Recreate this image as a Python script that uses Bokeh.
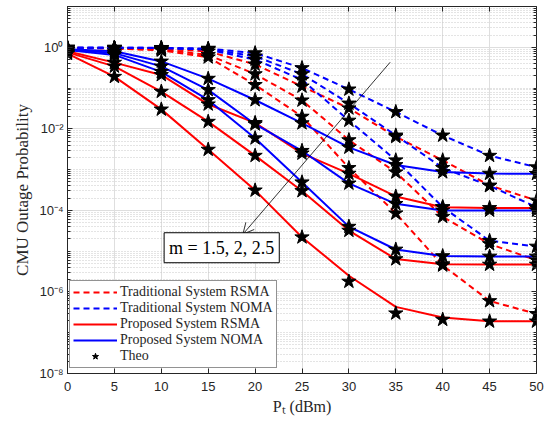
import numpy as np
from bokeh.plotting import figure
from bokeh.models import (FixedTicker, LogAxis, LinearAxis, Legend, LegendItem, Label,
                          Arrow, OpenHead, CustomJSTickFormatter)
from bokeh.embed import file_html
from bokeh.resources import INLINE

# ---------------- data ----------------
pt = [0, 5, 10, 15, 20, 25, 30, 35, 40, 45, 50]

# Traditional system, RSMA (m = 1.5, 2, 2.5)
trad_rsma_15 = [0.97, 0.96, 0.92, 0.79, 0.38, 0.11, 0.032, 6.4e-3, 1.7e-3, 4.1e-4, 1.75e-4]
trad_rsma_2 = [0.97, 0.95, 0.88, 0.65, 0.22, 0.05, 5.3e-3, 8.6e-4, 7e-5, 1.5e-5, 6e-6]
trad_rsma_25 = [0.96, 0.93, 0.84, 0.57, 0.12, 0.02, 1.1e-3, 8.5e-5, 4.5e-6, 6e-7, 2.9e-7]
# Traditional system, NOMA
trad_noma_15 = [0.98, 0.98, 0.97, 0.93, 0.72, 0.31, 0.093, 0.026, 6.9e-3, 2.2e-3, 1.15e-3]
trad_noma_2 = [0.98, 0.98, 0.96, 0.90, 0.60, 0.22, 0.042, 6.9e-3, 1.1e-3, 4e-4, 1.2e-4]
trad_noma_25 = [0.98, 0.97, 0.95, 0.88, 0.50, 0.16, 0.016, 1.7e-3, 1.2e-4, 1.8e-5, 1.3e-5]
# Proposed system, RSMA
prop_rsma_15 = [0.80, 0.42, 0.21, 0.040, 0.014, 2.5e-3, 8e-4, 2.2e-4, 1.2e-4, 1.15e-4, 1.15e-4]
prop_rsma_2 = [0.75, 0.34, 0.082, 0.015, 2.2e-3, 3e-4, 3.2e-5, 6.4e-6, 4.8e-6, 4.7e-6, 4.7e-6]
prop_rsma_25 = [0.70, 0.19, 0.030, 3.1e-3, 3.1e-4, 2.2e-5, 2.5e-6, 4.3e-7, 2.35e-7, 1.9e-7, 1.9e-7]
# Proposed system, NOMA
prop_noma_15 = [0.90, 0.80, 0.45, 0.17, 0.051, 0.0138, 3.5e-3, 1.3e-3, 8.7e-4, 8e-4, 7.9e-4]
prop_noma_2 = [0.88, 0.72, 0.34, 0.09, 0.013, 2.9e-3, 4.6e-4, 1.45e-4, 1.0e-4, 1.0e-4, 1.0e-4]
prop_noma_25 = [0.86, 0.65, 0.25, 0.051, 5.9e-3, 4.9e-4, 4.0e-5, 1.1e-5, 7.6e-6, 7.4e-6, 7.4e-6]

# Theoretical points (stars)
theo_prop_rsma_25 = [0.70, 0.19, 0.030, 3.1e-3, 3.1e-4, 2.2e-5, 1.8e-6, 3.0e-7, 2.1e-7, 1.9e-7, 1.9e-7]

y_major = [1e-8, 1e-6, 1e-4, 1e-2, 1]
x_major = [0, 5, 10, 15, 20, 25, 30, 35, 40, 45, 50]
annot_text = "m = 1.5, 2, 2.5"

RED = "#ff0000"
BLUE = "#0000ff"
AX = "#262626"

# ---------------- figure ----------------
p = figure(width=547, height=421, y_axis_type="log", x_range=(0, 50), y_range=(1e-8, 10),
           output_backend="svg", toolbar_location=None,
           min_border_left=67, min_border_right=11, min_border_top=6, min_border_bottom=48)
p.background_fill_color = "white"
p.border_fill_color = "white"
p.outline_line_color = AX
p.outline_line_width = 1

minor = []
for e in range(-8, 1):
    for k in range(1, 10):
        v = k * 10.0 ** e
        if v <= 10 and not (k == 1 and e % 2 == 0):
            minor.append(v)
minor.append(10.0)
yticker = FixedTicker(ticks=y_major, minor_ticks=minor)
xticker = FixedTicker(ticks=x_major, minor_ticks=[])

fmt = CustomJSTickFormatter(code="""
const sup = {'-':'\u207b','0':'\u2070','1':'\u00b9','2':'\u00b2','3':'\u00b3','4':'\u2074','5':'\u2075','6':'\u2076','7':'\u2077','8':'\u2078','9':'\u2079'};
const e = Math.round(Math.log10(tick));
return '10' + String(e).split('').map(c => sup[c]).join('');
""")

ya = p.yaxis[0]
ya.ticker = yticker
ya.formatter = fmt
xa = p.xaxis[0]
xa.ticker = xticker
for ax in (xa, ya):
    ax.axis_line_color = AX
    ax.major_tick_line_color = AX
    ax.minor_tick_line_color = AX
    ax.major_tick_in = 5
    ax.major_tick_out = 0
    ax.minor_tick_in = 3
    ax.minor_tick_out = 0
    ax.major_label_text_font = "Liberation Sans"
    ax.major_label_text_font_size = "13px"
    ax.major_label_text_color = AX
    ax.axis_label_text_font = "Liberation Serif"
    ax.axis_label_text_font_style = "normal"
    ax.axis_label_text_color = AX
ya.major_label_standoff = 4
xa.major_label_standoff = 8
ya.axis_label = "CMU Outage Probability"
ya.axis_label_text_font_size = "17px"
ya.axis_label_standoff = 4
xa.axis_label = "P\u209c (dBm)"
xa.axis_label_text_font_size = "16px"
xa.axis_label_standoff = 4

blank = CustomJSTickFormatter(code="return '';")
ra = LogAxis(ticker=yticker, formatter=blank, major_tick_in=5, major_tick_out=0,
             minor_tick_in=3, minor_tick_out=0, axis_line_color=None,
             major_tick_line_color=AX, minor_tick_line_color=AX,
             major_label_text_font_size="1px", major_label_standoff=0)
p.add_layout(ra, "right")
ta = LinearAxis(ticker=xticker, formatter=blank, major_tick_in=5, major_tick_out=0,
                axis_line_color=None, major_tick_line_color=AX,
                major_label_text_font_size="1px", major_label_standoff=0)
p.add_layout(ta, "above")

p.xgrid.ticker = xticker
p.ygrid.ticker = yticker
for g in (p.xgrid[0], p.ygrid[0]):
    g.grid_line_color = "#dedede"
    g.grid_line_width = 1
p.ygrid.minor_grid_line_color = "#c8c8c8"
p.ygrid.minor_grid_line_dash = "1 2"
p.ygrid.minor_grid_line_width = 1

# ---------------- glyphs ----------------
trad_rsma = [trad_rsma_15, trad_rsma_2, trad_rsma_25]
trad_noma = [trad_noma_15, trad_noma_2, trad_noma_25]
prop_rsma = [prop_rsma_15, prop_rsma_2, prop_rsma_25]
prop_noma = [prop_noma_15, prop_noma_2, prop_noma_25]

r_tr = [p.line(pt, s, line_color=RED, line_width=2, line_dash="6 4") for s in trad_rsma]
r_tn = [p.line(pt, s, line_color=BLUE, line_width=2, line_dash="6 4") for s in trad_noma]
r_pr = [p.line(pt, s, line_color=RED, line_width=2) for s in prop_rsma]
r_pn = [p.line(pt, s, line_color=BLUE, line_width=2) for s in prop_noma]

theo_sets = trad_rsma + trad_noma + [prop_rsma_15, prop_rsma_2, theo_prop_rsma_25] + prop_noma
r_star = None
for s in theo_sets:
    r_star = p.scatter(pt, s, marker="star", size=15, fill_color="black",
                       line_color="black", line_width=1)

# ---------------- annotations ----------------
arrow = Arrow(x_start=34.4, y_start=0.43, x_end=18.7, y_end=2.6e-5,
              line_color="black", line_width=0.8,
              end=OpenHead(size=11, line_color="black", line_width=0.8))
p.add_layout(arrow)

lab = Label(x=10.3, y=5.2e-6, text=annot_text, text_font="Liberation Serif",
            text_font_size="18px", text_color="black", text_align="left", text_baseline="bottom",
            border_line_color="black", border_line_width=1, background_fill_color="white",
            padding=5)
p.add_layout(lab)

legend = Legend(items=[
    LegendItem(label="Traditional System RSMA", renderers=[r_tr[0]]),
    LegendItem(label="Traditional System NOMA", renderers=[r_tn[0]]),
    LegendItem(label="Proposed System RSMA", renderers=[r_pr[0]]),
    LegendItem(label="Proposed System NOMA", renderers=[r_pn[0]]),
    LegendItem(label="Theo", renderers=[r_star]),
], location=(2, 5))
legend.label_text_font = "Liberation Serif"
legend.label_text_font_size = "14px"
legend.label_text_color = AX
legend.glyph_width = 44
legend.glyph_height = 16
legend.label_height = 16
legend.spacing = 0
legend.padding = 3
legend.margin = 0
legend.label_standoff = 3
legend.border_line_color = AX
legend.border_line_width = 1
legend.background_fill_color = "white"
legend.background_fill_alpha = 1
p.add_layout(legend)

open("out.html", "w").write(file_html(p, INLINE))
